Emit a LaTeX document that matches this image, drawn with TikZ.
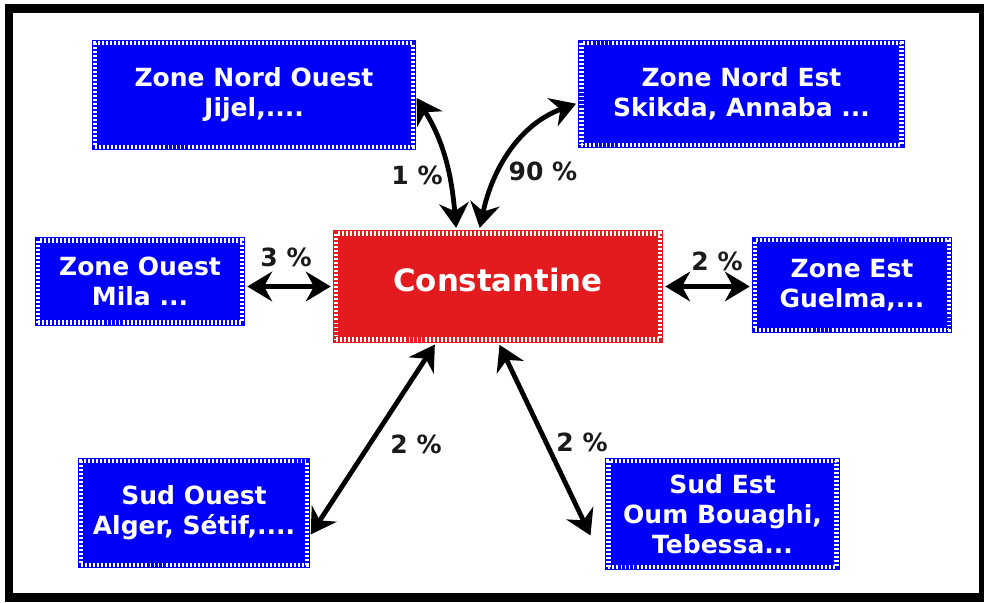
\documentclass[tikz,border=0pt]{standalone}
\usepackage{fontspec}
\setmainfont{DejaVu Sans}
\usepackage{xcolor}
\usetikzlibrary{arrows.meta}
\definecolor{ZoneBlue}{HTML}{0000FA}
\definecolor{CityRed}{HTML}{E41B1E}
\definecolor{PctBlack}{HTML}{1A1A1A}

\begin{document}
\begin{tikzpicture}[
      x=0.025cm, y=0.025cm,
      zonebox/.style={
        preaction={draw=#1, line width=5pt, solid},
        fill=#1,
        draw=white,
        line width=3pt,
        dash pattern=on 1.4pt off 1.45pt,
        inner sep=2pt,
        align=center,
        text=white,
        font=\fontsize{17.8}{21.3}\selectfont\bfseries
      },
      zonebox/.default=ZoneBlue,
      pct/.style={text=PctBlack, font=\fontsize{17.8}{21}\selectfont\bfseries},
      link/.style={{Stealth[length=0.62cm,width=0.74cm]}-{Stealth[length=0.62cm,width=0.74cm]},
        line width=0.12cm, shorten <=2.5pt, shorten >=2.5pt}
    ]
      \useasboundingbox (0,0) rectangle (984,-603);
      \draw[line width=0.22cm] (9,-8.5) rectangle (983.5,-597.5);
      % zones
      \node[zonebox, minimum width=7.93cm, minimum height=2.58cm] (nw) at (254,-95) {Zone Nord Ouest\\Jijel,....};
      \node[zonebox, minimum width=8cm, minimum height=2.53cm] (ne) at (741.5,-94) {Zone Nord Est\\Skikda, Annaba ...};
      \node[zonebox, minimum width=5.08cm, minimum height=2.05cm] (w) at (140,-281.5) {Zone Ouest\\Mila ...};
      \node[zonebox=CityRed, minimum width=8.08cm, minimum height=2.65cm, text depth=0.35cm,
        font=\fontsize{21.9}{26}\selectfont\bfseries] (cst) at (498,-286.5) {Constantine};
      \node[zonebox, minimum width=4.83cm, minimum height=2.23cm] (e) at (852,-285) {Zone Est\\Guelma,...};
      \node[zonebox, minimum width=5.63cm, minimum height=2.58cm] (sw) at (194,-513) {Sud Ouest\\Alger, Sétif,....};
      \node[zonebox, minimum width=5.7cm, minimum height=2.63cm] (se) at (722.5,-514) {Sud Est\\Oum Bouaghi,\\Tebessa...};
      % flows
      \draw[link] (nw.east) to[out=-58,in=95] (cst.127);
      \draw[link] (cst.109) to[out=78,in=200] (ne.183);
      \draw[link] (w.east |- cst.west) -- (cst.west);
      \draw[link] (cst.east) -- (e.west |- cst.east);
      \draw[link] (cst.222) -- (sw.348);
      \draw[link, shorten >=0.92cm] (cst.south) -- (se.south west);
      % shares
      \node[pct] (p1) at (417,-175) {1 \%};
      \node[pct] (p2) at (543,-171) {90 \%};
      \node[pct] (p3) at (286,-257) {3 \%};
      \node[pct] (p4) at (717,-261) {2 \%};
      \node[pct] (p5) at (416,-444) {2 \%};
      \node[pct] (p6) at (582,-442) {2 \%};
    \end{tikzpicture}
\end{document}
